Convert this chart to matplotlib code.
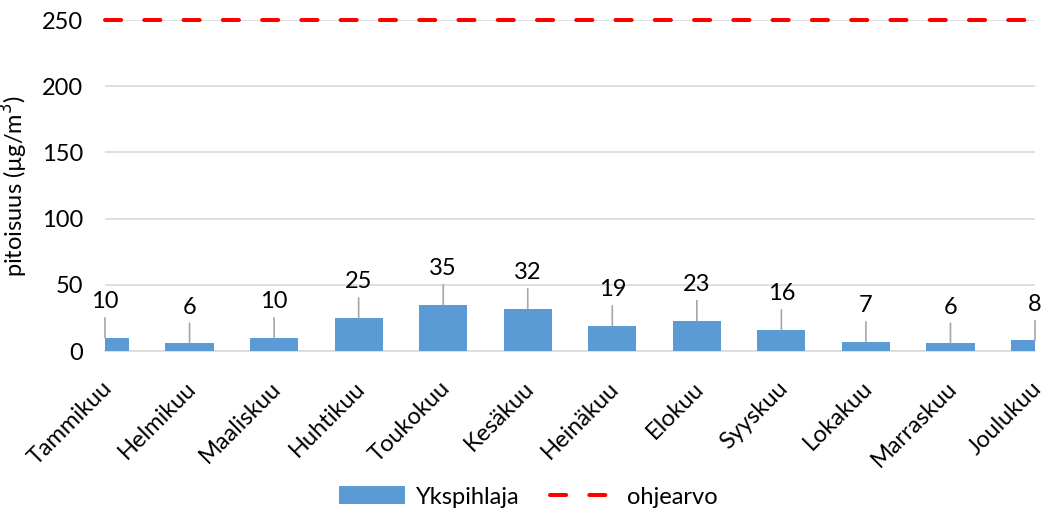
"""Monthly concentration at Ykspihlaja vs guideline value"""
import matplotlib
matplotlib.use('Agg')
import matplotlib.pyplot as plt
from matplotlib.patches import Patch
from matplotlib.lines import Line2D
from matplotlib.transforms import ScaledTranslation

months = ['Tammikuu', 'Helmikuu', 'Maaliskuu', 'Huhtikuu', 'Toukokuu', 'Kesäkuu',
          'Heinäkuu', 'Elokuu', 'Syyskuu', 'Lokakuu', 'Marraskuu', 'Joulukuu']
ykspihlaja = [10, 6, 10, 25, 35, 32, 19, 23, 16, 7, 6, 8]
ohjearvo = [250] * 12

plt.rcParams['font.family'] = ['Lato', 'DejaVu Sans']
FS = 17

fig = plt.figure(figsize=(10.46, 5.15), dpi=100)
ax = fig.add_axes([0.1004, 0.3184, 0.8891, 0.6426])

x = list(range(len(months)))
ax.bar(x, ykspihlaja, width=0.57, color='#5b9bd5', zorder=3)
ax.plot(x, ohjearvo, color='#ff0000', lw=2.9, dashes=(4, 5.75),
        dash_capstyle='round', zorder=4, clip_on=False)

# Data labels with leader lines
for xi, v in zip(x, ykspihlaja):
    ax.annotate(str(v), xy=(xi, v), xytext=(0, 36), textcoords='offset pixels',
                ha='center', va='center', fontsize=FS, color='#000000', zorder=5,
                annotation_clip=False)
    ax.annotate('', xy=(xi, v), xytext=(0, 20), textcoords='offset pixels',
                arrowprops=dict(arrowstyle='-', color='#a6a6a6', lw=1.2,
                                shrinkA=0, shrinkB=0),
                annotation_clip=False)

ax.set_xlim(0, 11)
ax.set_ylim(0, 250)
ax.set_yticks([0, 50, 100, 150, 200, 250])
ax.set_xticks(x)
ax.set_xticklabels(months, rotation=45, ha='right', va='top',
                   rotation_mode='anchor', fontsize=FS)
ax.tick_params(axis='both', length=0, labelsize=FS)
ax.tick_params(axis='y', pad=16)
ax.tick_params(axis='x', pad=19)
shift = ScaledTranslation(-4 / 100, 0, fig.dpi_scale_trans)
for lbl in ax.get_xticklabels():
    lbl.set_transform(lbl.get_transform() + shift)
ax.grid(axis='y', color='#d9d9d9', lw=1.2, zorder=0)
for s in ['top', 'right', 'left']:
    ax.spines[s].set_visible(False)
ax.spines['bottom'].set_color('#d9d9d9')
ax.spines['bottom'].set_linewidth(1.2)
ax.spines['bottom'].set_zorder(2)

ax.set_ylabel('pitoisuus (µg/m$^3$)', fontsize=FS, labelpad=8)

handles = [Patch(facecolor='#5b9bd5', label='Ykspihlaja'),
           Line2D([0], [0], color='#ff0000', lw=2.9, dashes=(4, 5.75),
                  dash_capstyle='round', label='ohjearvo')]
fig.legend(handles=handles, loc='center', bbox_to_anchor=(0.505, 0.035), ncol=2,
           frameon=False, fontsize=FS, handlelength=2.8, handleheight=0.8,
           columnspacing=1.3, handletextpad=0.45)

fig.savefig('out.png', dpi=100)
